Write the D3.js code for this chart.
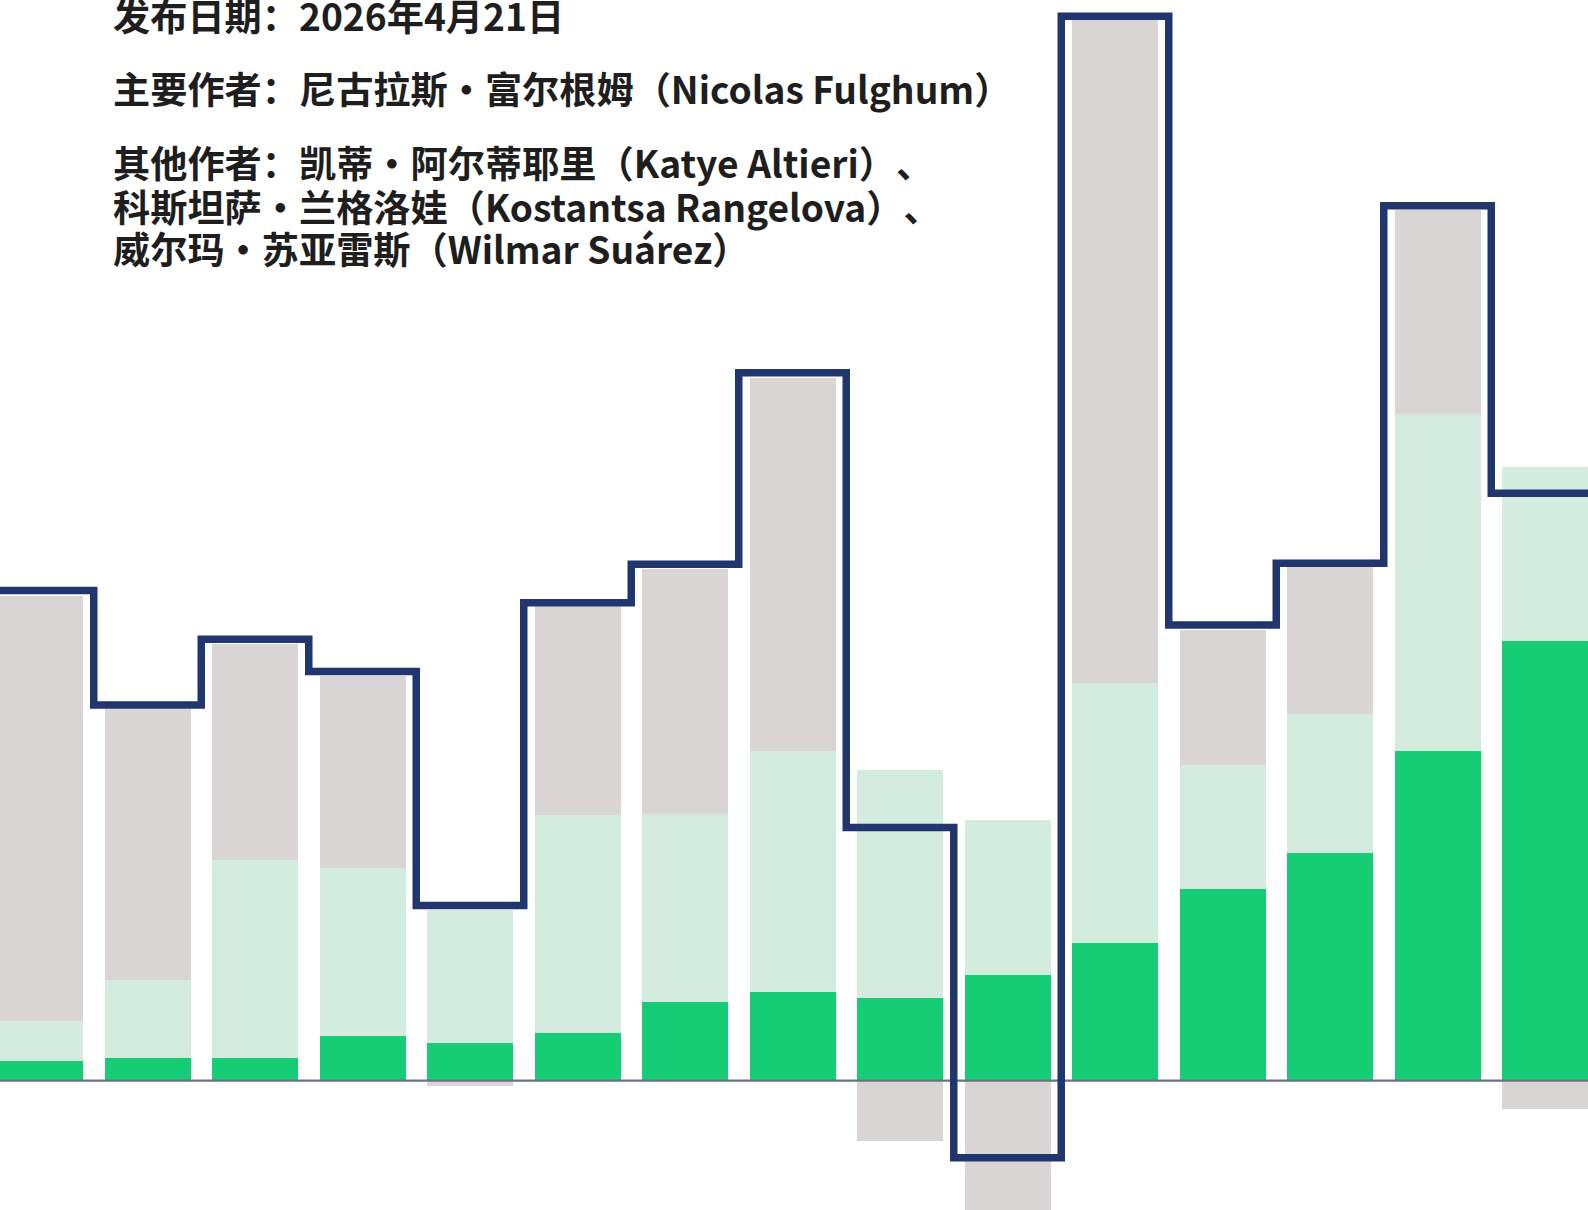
<!DOCTYPE html>
<html>
<head>
<meta charset="utf-8">
<script src="https://cdn.jsdelivr.net/npm/d3@7/dist/d3.min.js"></script>
<style>
  html, body { margin: 0; padding: 0; background: #ffffff; }
  svg { display: block; }
  text { text-spacing-trim: space-all; font-feature-settings: "chws" 0, "halt" 0, "palt" 0; }
</style>
</head>
<body>
<svg id="chart" width="1588" height="1210"></svg>
<script>
// ---- Data ----
const categories = ["1","2","3","4","5","6","7","8","9","10","11","12","13","14","15"];
const greenValues      = [1.9, 2.2, 2.2, 4.4, 3.7, 4.7, 7.8, 8.8, 8.2, 10.4, 13.6, 18.9, 22.5, 32.6, 43.4];
const lightGreenValues = [4.0, 7.7, 19.6, 16.6, 13.2, 21.5, 18.5, 23.8, 22.5, 15.3, 25.7, 12.3, 13.7, 33.2, 17.2];
const grayValues       = [42.0, 26.8, 21.3, 19.0, -0.5, 20.7, 24.2, 36.8, -6.0, -34.0, 65.4, 13.3, 14.5, 20.2, -2.8];
const netValues        = [48.4, 37.1, 43.6, 40.4, 17.3, 47.2, 51.0, 69.9, 25.0, -7.6, 105.1, 45.0, 51.1, 86.4, 58.0];

const textLines = [
  "发布日期：2026年4月21日",
  "主要作者：尼古拉斯・富尔根姆（Nicolas Fulghum）",
  "其他作者：凯蒂・阿尔蒂耶里（Katye Altieri）、",
  "科斯坦萨・兰格洛娃（Kostantsa Rangelova）、",
  "威尔玛・苏亚雷斯（Wilmar Suárez）"
];

const seriesKeys = ["green", "lightGreen", "gray"];
const seriesColors = { green: "#16cc74", lightGreen: "#d4ebdf", gray: "#d9d5d4" };

const rows = categories.map((c, i) => ({
  cat: c,
  green: greenValues[i],
  lightGreen: lightGreenValues[i],
  gray: grayValues[i],
  net: netValues[i]
}));

// ---- Layout ----
const W = 1588, H = 1210;
const svg = d3.select("#chart");

const x = d3.scaleBand()
  .domain(categories)
  .range([-13.75, 1598.75])
  .paddingInner(0.2)
  .paddingOuter(0.1);

const zeroY = 1080.7;
const y = d3.scaleLinear()
  .domain([0, 100])
  .range([zeroY, zeroY - 1012.76]);

const stack = d3.stack()
  .keys(seriesKeys)
  .offset(d3.stackOffsetDiverging);
const stacked = stack(rows);

// Bars
const barG = svg.append("g").attr("class", "bars");
barG.selectAll("g.series")
  .data(stacked)
  .join("g")
  .attr("class", "series")
  .attr("fill", d => seriesColors[d.key])
  .selectAll("rect")
  .data(d => d)
  .join("rect")
  .attr("x", d => x(d.data.cat))
  .attr("width", x.bandwidth())
  .attr("y", d => y(Math.max(d[0], d[1])))
  .attr("height", d => Math.abs(y(d[0]) - y(d[1])))
  .attr("shape-rendering", "crispEdges");

// Baseline
svg.append("line")
  .attr("x1", 0).attr("x2", W)
  .attr("y1", y(0)).attr("y2", y(0))
  .attr("stroke", "#6a7189")
  .attr("stroke-width", 2.3);

// Step line for net values (steps span full band step)
const gap = (x.step() - x.bandwidth()) / 2;
const stepPts = rows.map(r => [x(r.cat) - gap, y(r.net)]);
const lastRow = rows[rows.length - 1];
stepPts.push([x(lastRow.cat) - gap + x.step(), y(lastRow.net)]);

svg.append("path")
  .attr("d", d3.line().curve(d3.curveStepAfter)(stepPts))
  .attr("fill", "none")
  .attr("stroke", "#21366f")
  .attr("stroke-width", 7.5)
  .attr("stroke-linejoin", "miter");

// Text block
const baselines = [30.5, 104, 178, 221.5, 264];
svg.append("g")
  .attr("font-family", "'Noto Sans CJK SC', 'Noto Sans', sans-serif")
  .attr("font-weight", 700)
  .attr("font-size", 37.2)
  .attr("fill", "#1e1e1e")
  .selectAll("text")
  .data(textLines)
  .join("text")
  .attr("x", 113)
  .attr("y", (d, i) => baselines[i])
  .text(d => d);
</script>
</body>
</html>
